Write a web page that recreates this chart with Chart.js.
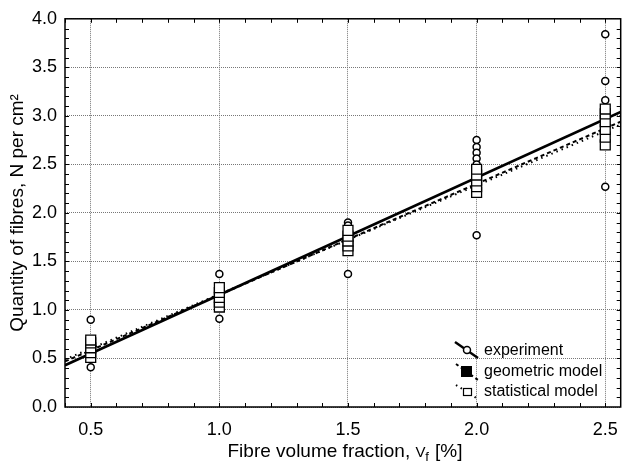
<!DOCTYPE html>
<html>
<head>
<meta charset="utf-8">
<script src="https://cdn.jsdelivr.net/npm/chart.js@4.4.1/dist/chart.umd.min.js"></script>
<style>
  html, body { margin: 0; padding: 0; background: #fff; overflow: hidden; }
  #wrap { width: 630px; height: 463px; }
</style>
</head>
<body>
<div id="wrap"><canvas id="chart" width="630" height="463"></canvas></div>
<script>
// values
var xTicks = [0.5, 1.0, 1.5, 2.0, 2.5];
var yTicks = [0, 0.5, 1.0, 1.5, 2.0, 2.5, 3.0, 3.5, 4.0];

var expX = [0.5, 0.5, 0.5, 0.5,
            1.0, 1.0, 1.0, 1.0,
            1.5, 1.5, 1.5, 1.5,
            2.0, 2.0, 2.0, 2.0, 2.0, 2.0, 2.0, 2.0, 2.0,
            2.5, 2.5, 2.5, 2.5];
var expY = [0.90, 0.41, 0.60, 0.55,
            1.37, 0.91, 1.15, 1.20,
            1.90, 1.87, 1.37, 1.72,
            2.75, 2.68, 2.62, 2.56, 2.50, 2.45, 2.23, 2.20, 1.77,
            3.84, 3.36, 3.16, 2.27];

var statX = [0.5, 0.5, 0.5, 0.5, 0.5,
             1.0, 1.0, 1.0, 1.0, 1.0,
             1.5, 1.5, 1.5, 1.5, 1.5,
             2.0, 2.0, 2.0, 2.0, 2.0,
             2.5, 2.5, 2.5, 2.5, 2.5, 2.5];
var statY = [0.51, 0.56, 0.61, 0.66, 0.69,
             1.03, 1.08, 1.13, 1.18, 1.23,
             1.61, 1.66, 1.71, 1.76, 1.82,
             2.21, 2.27, 2.33, 2.39, 2.45,
             2.70, 2.78, 2.86, 2.94, 3.02, 3.07];

var geoX = [0.5, 1.0, 1.5, 2.0, 2.5];
var geoY = [0.57, 1.14, 1.72, 2.29, 2.87];

// regression lines, ends at the axis limits
var lineX = [0.4, 2.56];
var expFit = [0.43, 3.04];
var geoFit = [0.47, 2.94];
var statFit = [0.49, 2.91];

var legendNames = ["experiment", "geometric model", "statistical model"];

function pts(xs, ys) {
  var out = [];
  for (var i = 0; i < xs.length; i++) out.push({ x: xs[i], y: ys[i] });
  return out;
}

Chart.defaults.font.family = "Arial, 'Liberation Sans', sans-serif";
Chart.defaults.color = "#000";

// frame, inward minor ticks, x title with subscript, legend
var decor = {
  id: "decor",
  afterDraw: function(chart) {
    var c = chart.ctx, a = chart.chartArea;
    var xs = chart.scales.x, ys = chart.scales.y;
    c.save();
    c.strokeStyle = "#000";
    c.lineWidth = 1.5;
    c.strokeRect(a.left, a.top, a.right - a.left, a.bottom - a.top);

    c.lineWidth = 1;
    c.beginPath();
    for (var v = 0.4; v <= 2.56; v += 0.1) {
      var px = Math.round(xs.getPixelForValue(v)) + 0.5;
      c.moveTo(px, a.bottom); c.lineTo(px, a.bottom - 4);
      c.moveTo(px, a.top); c.lineTo(px, a.top + 4);
    }
    for (var w = 0.1; w < 4; w += 0.1) {
      var py = Math.round(ys.getPixelForValue(w)) + 0.5;
      c.moveTo(a.left, py); c.lineTo(a.left + 4, py);
      c.moveTo(a.right, py); c.lineTo(a.right - 4, py);
    }
    c.stroke();

    // x axis title
    c.fillStyle = "#000";
    c.textBaseline = "alphabetic";
    var big = "19px Arial, 'Liberation Sans', sans-serif";
    var small = "13px Arial, 'Liberation Sans', sans-serif";
    var p1 = "Fibre volume fraction, ", p2 = "V", p3 = "f", p4 = " [%]";
    c.font = big; var w1 = c.measureText(p1).width, w4 = c.measureText(p4).width;
    c.font = small; var w2 = c.measureText(p2).width, w3 = c.measureText(p3).width;
    var tx = (a.left + 623) / 2 - (w1 + w2 + w3 + w4) / 2, ty = 457;
    c.font = big; c.fillText(p1, tx, ty);
    c.font = "15px Arial, 'Liberation Sans', sans-serif"; c.fillText(p2, tx + w1, ty);
    c.font = small; c.fillText(p3, tx + w1 + w2 + 1, ty + 4);
    c.font = big; c.fillText(p4, tx + w1 + w2 + w3 + 2, ty);

    // legend
    c.font = "16px Arial, 'Liberation Sans', sans-serif";
    c.textBaseline = "middle";
    var lx = 484, ly = [351, 372, 392];
    for (var i = 0; i < legendNames.length; i++) {
      c.fillText(legendNames[i], lx, ly[i]);
    }
    c.lineWidth = 2.5;
    c.setLineDash([]);
    c.beginPath(); c.moveTo(455, 342); c.lineTo(478, 358); c.stroke();
    c.beginPath(); c.arc(467, 350, 3.5, 0, Math.PI * 2);
    c.fillStyle = "#fff"; c.fill(); c.lineWidth = 1.5; c.stroke();
    c.fillStyle = "#000";
    c.lineWidth = 2;
    c.setLineDash([3, 3]);
    c.beginPath(); c.moveTo(456, 364); c.lineTo(478, 380); c.stroke();
    c.setLineDash([]);
    c.fillRect(461, 366, 11, 11);
    c.setLineDash([1.5, 4]);
    c.beginPath(); c.moveTo(456, 385); c.lineTo(478, 399); c.stroke();
    c.setLineDash([]);
    c.fillStyle = "#fff"; c.fillRect(463, 388, 8, 7);
    c.lineWidth = 1.2; c.strokeRect(463.5, 388.5, 8, 7);
    c.restore();
  }
};

var ctx = document.getElementById("chart").getContext("2d");
new Chart(ctx, {
  type: "scatter",
  data: {
    datasets: [
      {
        label: "statistical model",
        data: pts(statX, statY),
        pointStyle: "rect",
        pointRadius: 7,
        backgroundColor: "#fff",
        borderColor: "#000",
        borderWidth: 1.3
      },
      {
        label: "geometric model",
        data: pts(geoX, geoY),
        pointStyle: "rect",
        pointRadius: 5.5,
        backgroundColor: "#000",
        borderColor: "#000",
        borderWidth: 1
      },
      {
        label: "statistical fit",
        data: pts(lineX, statFit),
        showLine: true,
        pointRadius: 0,
        borderColor: "#000",
        borderWidth: 2,
        borderDash: [1.5, 4]
      },
      {
        label: "geometric fit",
        data: pts(lineX, geoFit),
        showLine: true,
        pointRadius: 0,
        borderColor: "#000",
        borderWidth: 2,
        borderDash: [4, 3]
      },
      {
        label: "experiment fit",
        data: pts(lineX, expFit),
        showLine: true,
        pointRadius: 0,
        borderColor: "#000",
        borderWidth: 2.8
      },
      {
        label: "experiment",
        data: pts(expX, expY),
        pointStyle: "circle",
        pointRadius: 3.5,
        backgroundColor: "#fff",
        borderColor: "#000",
        borderWidth: 1.5
      }
    ]
  },
  options: {
    responsive: false,
    animation: false,
    layout: { padding: { top: 17, right: 3, left: 0, bottom: 0 } },
    plugins: {
      legend: { display: false },
      tooltip: { enabled: false }
    },
    scales: {
      x: {
        type: "linear",
        min: 0.4,
        max: 2.56,
        afterBuildTicks: function(s) { s.ticks = xTicks.map(function(v) { return { value: v }; }); },
        afterFit: function(s) { s.height = 56; },
        ticks: {
          padding: 12,
          font: { size: 18 },
          callback: function(v) { return v.toFixed(1); }
        },
        grid: { color: "#777", drawTicks: false },
        border: { display: false, dash: [1, 1] }
      },
      y: {
        min: 0,
        max: 4,
        afterBuildTicks: function(s) { s.ticks = yTicks.map(function(v) { return { value: v }; }); },
        afterFit: function(s) { s.width = 65; },
        ticks: {
          padding: 8,
          font: { size: 18 },
          callback: function(v) { return v.toFixed(1); }
        },
        grid: { color: "#777", drawTicks: false },
        border: { display: false, dash: [1, 1] },
        title: {
          display: true,
          text: "Quantity of fibres, N per cm²",
          font: { size: 19 },
          padding: { top: 6, bottom: 0 }
        }
      }
    }
  },
  plugins: [decor]
});
</script>
</body>
</html>
